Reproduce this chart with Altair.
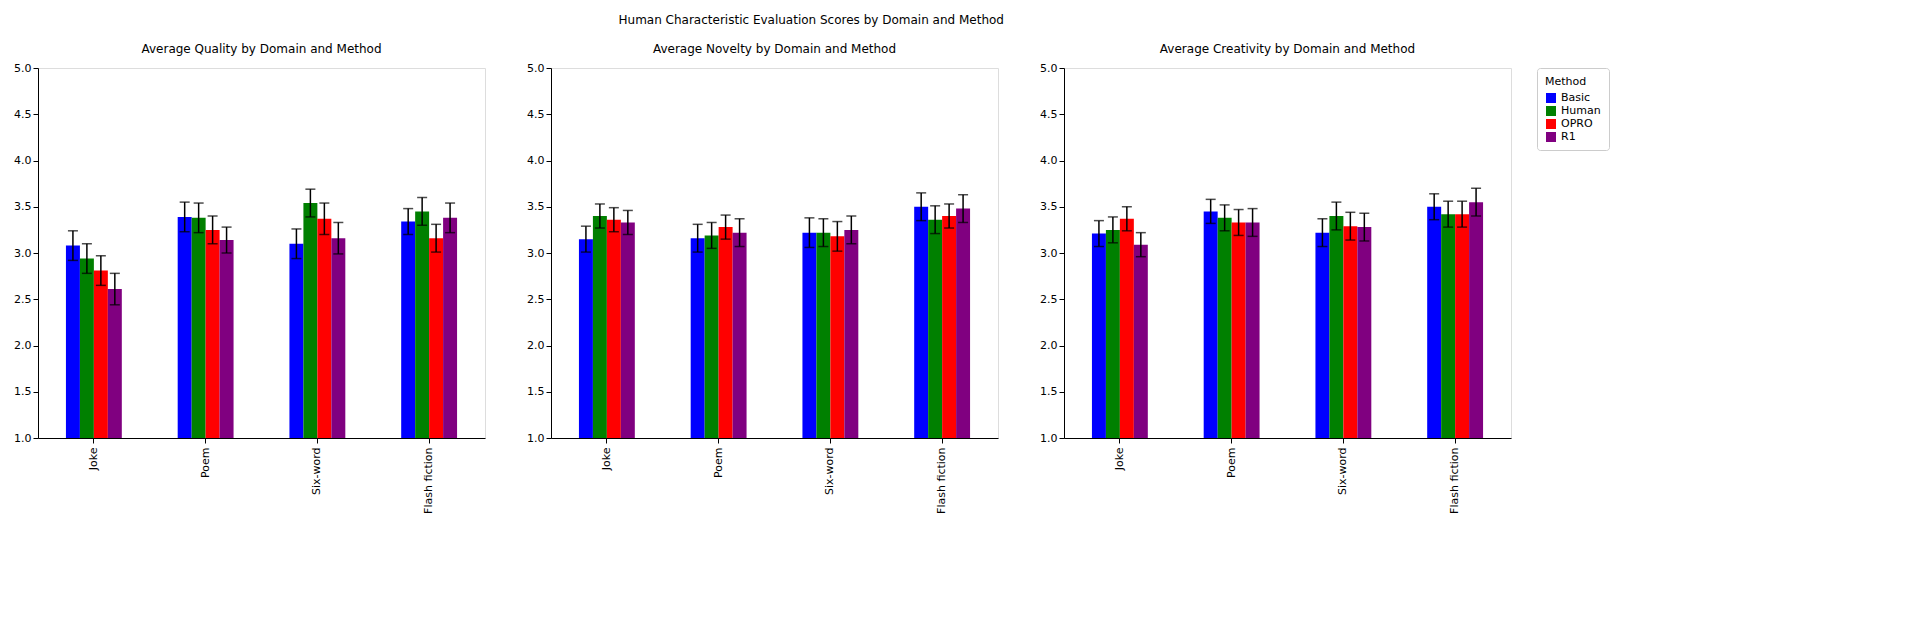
import pandas as pd
import altair as alt

domains = ["Joke", "Poem", "Six-word", "Flash fiction"]
methods = ["Basic", "Human", "OPRO", "R1"]
colors = ["blue", "green", "red", "purple"]

# scores per domain, in order Basic, Human, OPRO, R1
quality = [[3.08, 2.94, 2.81, 2.61], [3.39, 3.38, 3.25, 3.14],
           [3.10, 3.54, 3.37, 3.16], [3.34, 3.45, 3.16, 3.38]]
quality_err = [[0.16, 0.16, 0.16, 0.17], [0.16, 0.16, 0.15, 0.14],
               [0.16, 0.15, 0.17, 0.17], [0.14, 0.15, 0.15, 0.16]]
novelty = [[3.15, 3.40, 3.36, 3.33], [3.16, 3.19, 3.28, 3.22],
           [3.22, 3.22, 3.18, 3.25], [3.50, 3.36, 3.40, 3.48]]
novelty_err = [[0.14, 0.13, 0.13, 0.13], [0.15, 0.14, 0.13, 0.15],
               [0.16, 0.15, 0.16, 0.15], [0.15, 0.15, 0.13, 0.15]]
creativity = [[3.21, 3.25, 3.37, 3.09], [3.45, 3.38, 3.33, 3.33],
              [3.22, 3.40, 3.29, 3.28], [3.50, 3.42, 3.42, 3.55]]
creativity_err = [[0.14, 0.14, 0.13, 0.13], [0.13, 0.14, 0.14, 0.15],
                  [0.15, 0.15, 0.15, 0.15], [0.14, 0.14, 0.14, 0.15]]

metrics = [("Quality", quality, quality_err),
           ("Novelty", novelty, novelty_err),
           ("Creativity", creativity, creativity_err)]

font = "DejaVu Sans"
yscale = alt.Scale(domain=[1, 5], nice=False, zero=False)


def panel(name, vals, errs):
    rows = []
    for i, d in enumerate(domains):
        for j, m in enumerate(methods):
            rows.append({"Domain": d, "Method": m, "Score": vals[i][j],
                         "lo": vals[i][j] - errs[i][j], "hi": vals[i][j] + errs[i][j]})
    df = pd.DataFrame(rows)
    x = alt.X("Domain:N", sort=domains, title=None,
              scale=alt.Scale(paddingInner=0.5, paddingOuter=0.25),
              axis=alt.Axis(labelAngle=-90, labelFontSize=11, labelColor="black",
                            domainColor="black", tickColor="black", labelPadding=4))
    xo = alt.XOffset("Method:N", sort=methods)
    bars = alt.Chart(df).mark_bar(clip=True).encode(
        x=x, xOffset=xo,
        y=alt.Y("Score:Q", title=None, scale=yscale,
                axis=alt.Axis(values=[1 + 0.5 * k for k in range(9)], format=".1f",
                              grid=False, labelFontSize=11, labelColor="black",
                              domainColor="black", tickColor="black")),
        y2=alt.datum(1),
        color=alt.Color("Method:N", sort=methods,
                        scale=alt.Scale(domain=methods, range=colors),
                        legend=alt.Legend(title="Method", orient="right",
                                          strokeColor="#ccc", padding=8,
                                          cornerRadius=3, titleFontWeight="normal",
                                          titleFontSize=11, labelFontSize=11,
                                          symbolType="square", offset=25)),
    )
    rule = alt.Chart(df).mark_rule(color="black", strokeWidth=1.5).encode(
        x=alt.X("Domain:N", sort=domains), xOffset=xo,
        y=alt.Y("lo:Q", scale=yscale), y2="hi:Q",
    )
    cap_lo = alt.Chart(df).mark_tick(color="black", thickness=1.5, size=10,
                                     orient="horizontal").encode(
        x=alt.X("Domain:N", sort=domains), xOffset=xo,
        y=alt.Y("lo:Q", scale=yscale),
    )
    cap_hi = cap_lo.encode(y=alt.Y("hi:Q", scale=yscale))
    return alt.layer(bars, rule, cap_lo, cap_hi).properties(
        width=447, height=370,
        title=alt.TitleParams(f"Average {name} by Domain and Method", fontSize=12,
                              fontWeight="normal", font=font, offset=6),
    )


charts = [panel(n, v, e) for n, v, e in metrics]

chart = alt.hconcat(*charts, spacing=40).properties(
    title=alt.TitleParams("Human Characteristic Evaluation Scores by Domain and Method",
                          fontSize=12, fontWeight="normal", anchor="middle", font=font,
                          offset=16)
).configure_view(stroke="black", strokeWidth=1).configure(font=font)

chart.save("out.html", embed_options={"renderer": "svg", "actions": False})
